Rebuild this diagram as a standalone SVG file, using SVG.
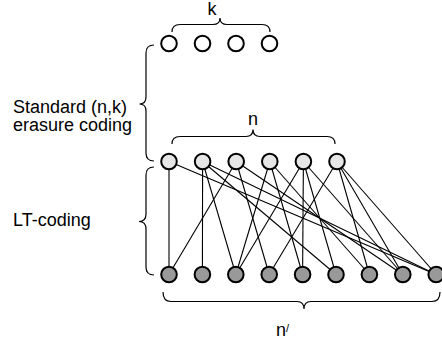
<svg xmlns="http://www.w3.org/2000/svg" width="442" height="343" viewBox="0 0 442 343">
<style>
.lbl{font-family:"Liberation Sans",Arial,sans-serif;font-size:18px;fill:#000}
.br{fill:none;stroke:#000;stroke-width:1.2}
.e line{stroke:#000;stroke-width:1.1}
.n{stroke:#000;stroke-width:2}
.top{fill:#fff}
.mid{fill:#e6e6e6}
.bot{fill:#999}
</style>
<rect width="442" height="343" fill="#fff"/>
<g id="braces">
<path class="br" d="M172,32 Q172,24.5 180,24.5 L213,24.5 Q220,24.5 220,18 Q220,24.5 227,24.5 L262,24.5 Q270,24.5 270,32"/>
<path class="br" d="M172,144 Q172,136.5 180,136.5 L246,136.5 Q253,136.5 253,129.5 Q253,136.5 260,136.5 L327,136.5 Q335,136.5 335,144"/>
<path class="br" d="M163,292 Q163,301.5 171,301.5 L297,301.5 Q304,301.5 304,309 Q304,301.5 311,301.5 L432,301.5 Q440,301.5 440,292"/>
<path class="br" d="M154,45 Q146,45 146,53 L146,97 Q146,104 139.5,104 Q146,104 146,111 L146,153 Q146,161 154,161"/>
<path class="br" d="M154,167 Q146,167 146,175 L146,214 Q146,221.5 139,221.5 Q146,221.5 146,229 L146,267 Q146,275 154,275"/>
</g>
<g id="labels">
<text class="lbl" x="212" y="15" text-anchor="middle">k</text>
<text class="lbl" x="253" y="125" text-anchor="middle">n</text>
<text class="lbl" x="276" y="336">n<tspan font-size="11" dy="-4">/</tspan></text>
<text class="lbl" x="13" y="113">Standard (n,k)</text>
<text class="lbl" x="13" y="131">erasure coding</text>
<text class="lbl" x="13" y="226">LT-coding</text>
</g>
<g id="connectors" class="e">
<line x1="169" y1="161.5" x2="169" y2="274.5"/>
<line x1="169" y1="161.5" x2="436.2" y2="274.5"/>
<line x1="202.6" y1="161.5" x2="202.4" y2="274.5"/>
<line x1="202.6" y1="161.5" x2="235.8" y2="274.5"/>
<line x1="202.6" y1="161.5" x2="336" y2="274.5"/>
<line x1="202.6" y1="161.5" x2="436.2" y2="274.5"/>
<line x1="236.2" y1="161.5" x2="169" y2="274.5"/>
<line x1="236.2" y1="161.5" x2="269.2" y2="274.5"/>
<line x1="236.2" y1="161.5" x2="402.8" y2="274.5"/>
<line x1="269.8" y1="161.5" x2="235.8" y2="274.5"/>
<line x1="269.8" y1="161.5" x2="302.6" y2="274.5"/>
<line x1="269.8" y1="161.5" x2="369.4" y2="274.5"/>
<line x1="303.4" y1="161.5" x2="302.6" y2="274.5"/>
<line x1="303.4" y1="161.5" x2="235.8" y2="274.5"/>
<line x1="303.4" y1="161.5" x2="336" y2="274.5"/>
<line x1="303.4" y1="161.5" x2="402.8" y2="274.5"/>
<line x1="337" y1="161.5" x2="269.2" y2="274.5"/>
<line x1="337" y1="161.5" x2="369.4" y2="274.5"/>
<line x1="337" y1="161.5" x2="402.8" y2="274.5"/>
<line x1="337" y1="161.5" x2="436.2" y2="274.5"/>
</g>
<g id="top-row">
<circle id="t1" class="n top" cx="169" cy="43.5" r="7.8"/>
<circle id="t2" class="n top" cx="202.5" cy="43.5" r="7.8"/>
<circle id="t3" class="n top" cx="236" cy="43.5" r="7.8"/>
<circle id="t4" class="n top" cx="269.5" cy="43.5" r="7.8"/>
</g>
<g id="mid-row">
<circle id="m1" class="n mid" cx="169" cy="161.5" r="7.8"/>
<circle id="m2" class="n mid" cx="202.6" cy="161.5" r="7.8"/>
<circle id="m3" class="n mid" cx="236.2" cy="161.5" r="7.8"/>
<circle id="m4" class="n mid" cx="269.8" cy="161.5" r="7.8"/>
<circle id="m5" class="n mid" cx="303.4" cy="161.5" r="7.8"/>
<circle id="m6" class="n mid" cx="337" cy="161.5" r="7.8"/>
</g>
<g id="bottom-row">
<circle id="b1" class="n bot" cx="169" cy="274.5" r="7.8"/>
<circle id="b2" class="n bot" cx="202.4" cy="274.5" r="7.8"/>
<circle id="b3" class="n bot" cx="235.8" cy="274.5" r="7.8"/>
<circle id="b4" class="n bot" cx="269.2" cy="274.5" r="7.8"/>
<circle id="b5" class="n bot" cx="302.6" cy="274.5" r="7.8"/>
<circle id="b6" class="n bot" cx="336" cy="274.5" r="7.8"/>
<circle id="b7" class="n bot" cx="369.4" cy="274.5" r="7.8"/>
<circle id="b8" class="n bot" cx="402.8" cy="274.5" r="7.8"/>
<circle id="b9" class="n bot" cx="436.2" cy="274.5" r="7.8"/>
</g>
</svg>
